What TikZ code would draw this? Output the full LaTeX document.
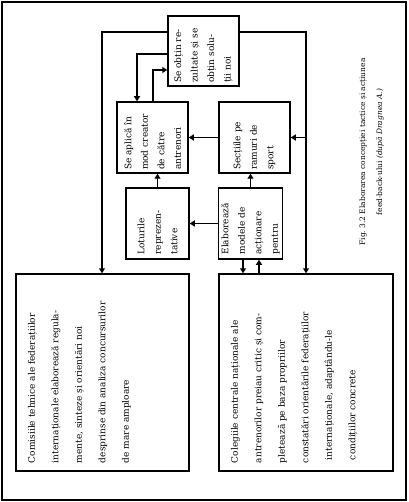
\documentclass[tikz,border=0pt]{standalone}
\usepackage{fontspec}
\setmainfont{DejaVu Serif}
\usetikzlibrary{arrows.meta}

\tikzset{
  box/.style={draw, line width=1.5pt, rotate=90, align=left, inner sep=3pt,
    font=\fontsize{9}{16.5}\selectfont},
  bigbox/.style={draw, line width=1.5pt, rotate=90, inner xsep=8pt, inner ysep=12pt,
    font=\fontsize{9}{23.5}\selectfont},
  arr/.style={line width=1.5pt, -{Triangle[length=5pt,width=6pt]}},
}

\begin{document}
\begin{tikzpicture}[x=1pt, y=-1pt]
  \useasboundingbox (0,0) rectangle (408,502);
  \draw[line width=1.2pt] (2,2) rectangle (406,500);

  % upper boxes
  \node[box, minimum width=70pt, minimum height=71pt, text width=64pt] (obtin) at (203.5,51)
    {Se obțin re-\\zultate și se\\obțin solu-\\ții noi};
  \node[box, minimum width=71pt, minimum height=71pt, text width=65pt] (aplica) at (152.5,137.5)
    {Se aplică în\\mod creator\\de către\\antrenori};
  \node[box, minimum width=71pt, minimum height=71pt, text width=65pt] (sectii) at (254.5,137.5)
    {Secțiile pe\\ramuri de\\sport};
  \node[box, minimum width=71pt, minimum height=63pt, text width=62pt] (loturi) at (157.5,223.5)
    {Loturile\\reprezen-\\tative};
  \node[box, minimum width=71pt, minimum height=63pt, text width=62pt] (elab) at (250.5,223.5)
    {Elaborează\\modele de\\acționare\\pentru};

  % lower boxes
  \node[bigbox] (comisii) at (102.5,372.5)
    {\parbox[c][149pt][t]{181pt}{\raggedright
      Comisiile tehnice ale federațiilor\\
      internaționale elaborează regula-\\
      mente, sinteze și orientări noi\\
      desprinse din analiza concursurilor\\
      de mare amploare}};
  \node[bigbox] (colegii) at (306,372.5)
    {\parbox[c][150pt][t]{181pt}{\raggedright
      Colegiile centrale naționale ale\\
      antrenorilor preiau critic și com-\\
      pletează pe baza propriilor\\
      constatări orientările federațiilor\\
      \hspace{3pt}internaționale, adaptându-le\\
      \hspace{3pt}condițiilor concrete}};

  \node[rotate=90, align=center, font=\fontsize{7.5}{17}\selectfont] (caption) at (371.5,152)
    {Fig.\ 3.2 Elaborarea concepției tactice și acțiunea\\
     feed-back-ului \textit{(după Dragnea A.)}};

  % feed-back
  \draw[arr] (obtin.north |- 0,32) -| (comisii.east -| 102,0);
  \draw[arr] (obtin.south |- 0,32) -| (colegii.east -| 306,0);
  \coordinate (jr) at (306,137.5);
  \draw[arr] (jr) -- (sectii.south);
  \draw[arr] (obtin.north |- 0,54) -| (aplica.east -| 137,0);
  \draw[arr] (aplica.east -| 153,0) |- (obtin.north |- 0,70);

  \draw[arr] (sectii.north) -- (aplica.south);
  \draw[arr] (loturi.east) -- (aplica.west -| loturi.east);
  \draw[arr] (elab.east) -- (sectii.west -| elab.east);
  \draw[arr] (elab.north) -- (loturi.south);
  \draw[arr] (elab.west -| 243,0) -- (colegii.east -| 243,0);
  \draw[arr] (colegii.east -| 259,0) -- (elab.west -| 259,0);
\end{tikzpicture}
\end{document}
